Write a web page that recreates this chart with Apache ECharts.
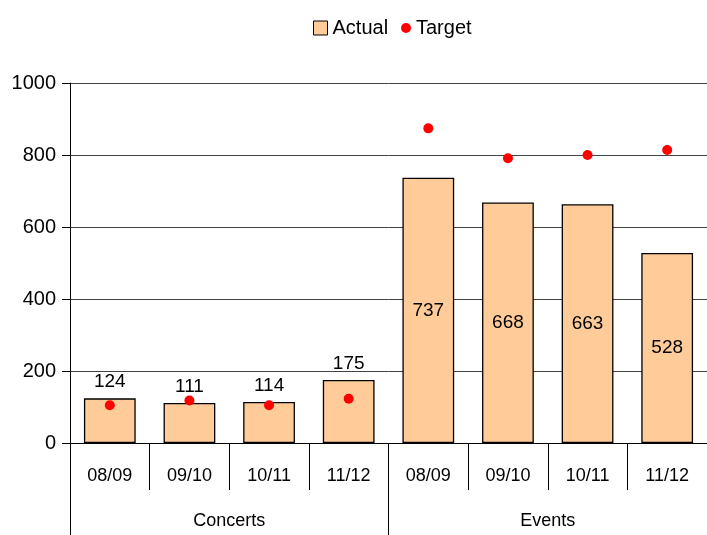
<!DOCTYPE html>
<html>
<head>
<meta charset="utf-8">
<script src="https://cdn.jsdelivr.net/npm/echarts@6/dist/echarts.min.js"></script>
<style>
  html, body { margin: 0; padding: 0; background: #fff; }
  #chart { width: 707px; height: 535px; }
</style>
</head>
<body>
<div id="chart"></div>
<script>
const categories = ['08/09', '09/10', '10/11', '11/12', '08/09', '09/10', '10/11', '11/12'];
const groups = ['Concerts', 'Events'];
const actual = [124, 111, 114, 175, 737, 668, 663, 528];
const target = [105, 118, 105, 123, 874, 791, 800, 814];
const yTicks = [0, 200, 400, 600, 800, 1000];

const font = '"Liberation Sans Narrow", "Liberation Sans", Arial, sans-serif';

// small bars get the label on top, tall ones in the middle
const actualData = actual.map((v, i) => ({
    value: v,
    label: { position: i < 4 ? 'top' : 'inside' }
}));

const legendText = { fontFamily: font, fontSize: 20, color: '#000' };

echarts.init(document.querySelector('#chart')).setOption({
    animation: false,
    legend: [{
        left: 308,
        top: 13,
        itemWidth: 14,
        itemHeight: 14,
        itemGap: 8,
        textStyle: legendText,
        data: [{ name: 'Actual', icon: 'rect', itemStyle: { borderColor: '#000', borderWidth: 1 } }]
    }, {
        left: 396,
        top: 13,
        itemWidth: 10,
        itemHeight: 10,
        textStyle: legendText,
        data: [{ name: 'Target', icon: 'circle' }]
    }],
    grid: { left: 70, top: 83, width: 645, height: 360 },
    xAxis: [{
        type: 'category',
        data: categories,
        axisLine: { show: true, lineStyle: { color: '#000', width: 1 } },
        axisTick: { show: true, alignWithLabel: false, interval: 0, length: 47, lineStyle: { color: '#000' } },
        axisLabel: { interval: 0, margin: 24, fontFamily: font, fontSize: 18, color: '#000' }
    }, {
        type: 'category',
        data: groups,
        position: 'bottom',
        axisLine: { show: false },
        axisTick: { show: true, interval: 0, length: 92, lineStyle: { color: '#000' } },
        axisLabel: { interval: 0, margin: 69, fontFamily: font, fontSize: 18, color: '#000' }
    }],
    yAxis: {
        type: 'value',
        min: yTicks[0],
        max: yTicks[yTicks.length - 1],
        interval: 200,
        axisLine: { show: true, lineStyle: { color: '#000' } },
        axisTick: { show: true, length: 8, lineStyle: { color: '#000' } },
        axisLabel: { margin: 14, fontFamily: font, fontSize: 20, color: '#000', formatter: v => String(v) },
        splitLine: { lineStyle: { color: '#444', width: 1 } }
    },
    series: [{
        name: 'Actual',
        type: 'bar',
        data: actualData,
        barWidth: '65%',
        itemStyle: { color: '#FFCC99', borderColor: '#000', borderWidth: 1.3 },
        label: { show: true, distance: 7, fontFamily: font, fontSize: 19, color: '#000' },
        z: 2
    }, {
        name: 'Target',
        type: 'scatter',
        data: target,
        symbol: 'circle',
        symbolSize: 10,
        itemStyle: { color: '#FF0000', opacity: 1 },
        z: 3
    }]
});
</script>
</body>
</html>
